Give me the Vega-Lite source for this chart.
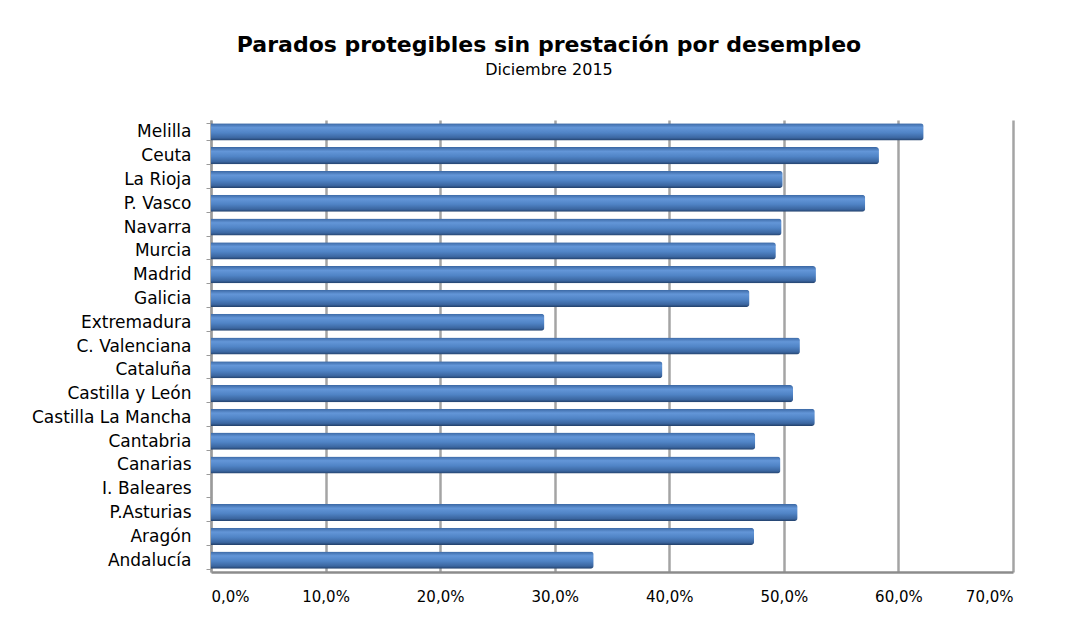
{
  "$schema": "https://vega.github.io/schema/vega-lite/v6.json",
  "autosize": "none",
  "width": 802,
  "height": 452,
  "padding": {"left": 211, "top": 120, "right": 68, "bottom": 49},
  "background": "white",
  "title": {
    "text": "Parados protegibles sin prestación por desempleo",
    "subtitle": "Diciembre 2015",
    "anchor": "middle",
    "frame": "group",
    "dx": -63,
    "offset": 32,
    "font": "DejaVu Sans",
    "fontSize": 22,
    "fontWeight": "bold",
    "color": "#000000",
    "subtitleFont": "DejaVu Sans",
    "subtitleFontSize": 16,
    "subtitleColor": "#000000",
    "subtitlePadding": 5
  },
  "data": {
    "values": [
      {"region": "Melilla", "value": 0.622},
      {"region": "Ceuta", "value": 0.583},
      {"region": "La Rioja", "value": 0.499},
      {"region": "P. Vasco", "value": 0.571},
      {"region": "Navarra", "value": 0.498},
      {"region": "Murcia", "value": 0.493},
      {"region": "Madrid", "value": 0.528},
      {"region": "Galicia", "value": 0.470},
      {"region": "Extremadura", "value": 0.291},
      {"region": "C. Valenciana", "value": 0.514},
      {"region": "Cataluña", "value": 0.394},
      {"region": "Castilla y León", "value": 0.508},
      {"region": "Castilla La Mancha", "value": 0.527},
      {"region": "Cantabria", "value": 0.475},
      {"region": "Canarias", "value": 0.497},
      {"region": "I. Baleares", "value": null},
      {"region": "P.Asturias", "value": 0.512},
      {"region": "Aragón", "value": 0.474},
      {"region": "Andalucía", "value": 0.334}
    ]
  },
  "mark": {
    "type": "bar",
    "cornerRadiusEnd": 3,
    "color": {
      "gradient": "linear",
      "x1": 0, "y1": 0, "x2": 0, "y2": 1,
      "stops": [
        {"offset": 0, "color": "#3a67a3"},
        {"offset": 0.25, "color": "#6396d8"},
        {"offset": 0.55, "color": "#5084c6"},
        {"offset": 0.85, "color": "#3b66a0"},
        {"offset": 1, "color": "#22406a"}
      ]
    }
  },
  "encoding": {
    "y": {
      "field": "region",
      "type": "nominal",
      "sort": null,
      "title": null,
      "scale": {
        "domain": ["Melilla", "Ceuta", "La Rioja", "P. Vasco", "Navarra", "Murcia", "Madrid", "Galicia", "Extremadura", "C. Valenciana", "Cataluña", "Castilla y León", "Castilla La Mancha", "Cantabria", "Canarias", "I. Baleares", "P.Asturias", "Aragón", "Andalucía"],
        "paddingInner": 0.28,
        "paddingOuter": 0.14
      },
      "axis": {
        "domainColor": "#9a9a9a",
        "domainWidth": 2,
        "tickBand": "extent",
        "tickColor": "#9a9a9a",
        "tickSize": 5,
        "labelFont": "DejaVu Sans",
        "labelFontSize": 17,
        "labelColor": "#000000",
        "labelPadding": 15
      }
    },
    "x": {
      "field": "value",
      "type": "quantitative",
      "title": null,
      "scale": {"domain": [0, 0.7], "nice": false},
      "axis": {
        "values": [0, 0.1, 0.2, 0.3, 0.4, 0.5, 0.6, 0.7],
        "labelExpr": "replace(format(datum.value, '.1%'), '.', ',')",
        "grid": true,
        "gridColor": "#a4a4a4",
        "gridWidth": 2.5,
        "domainColor": "#8c8c8c",
        "domainWidth": 2.5,
        "ticks": false,
        "labelFont": "DejaVu Sans",
        "labelFontSize": 15,
        "labelColor": "#000000",
        "labelPadding": 17
      }
    }
  },
  "config": {
    "view": {"stroke": null}
  }
}
